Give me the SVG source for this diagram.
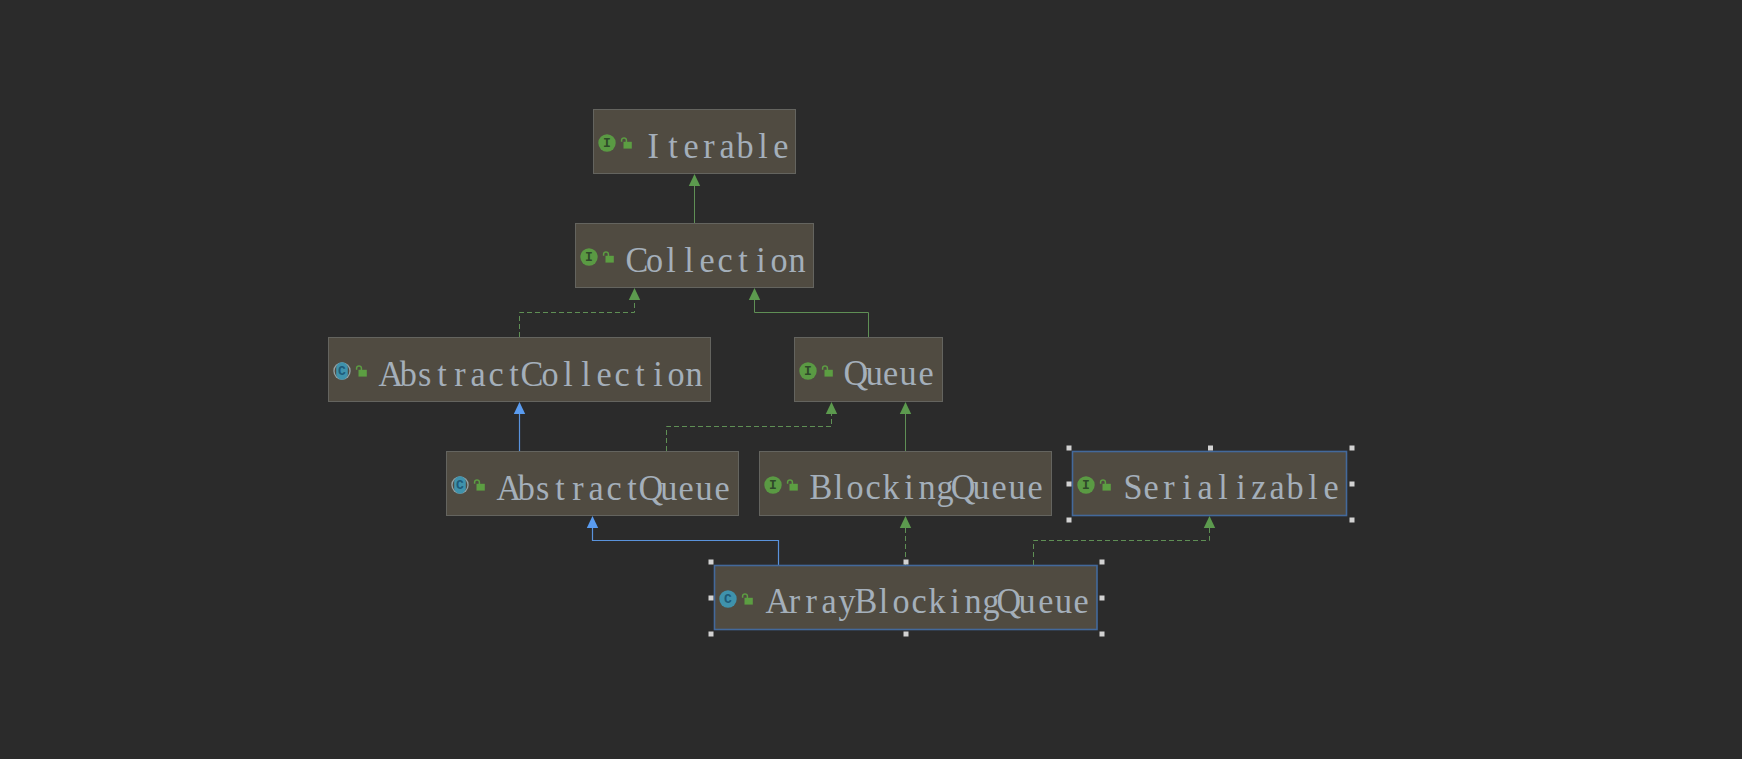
<svg xmlns="http://www.w3.org/2000/svg" width="1742" height="759" viewBox="0 0 1742 759">
<style>
.box{fill:#504b41;stroke:#64645f;stroke-width:1}
.sel{fill:#504b41;stroke:#43699b;stroke-width:1.6}
.name{font-family:"Liberation Serif",serif;font-size:36px;fill:#a4afba;text-anchor:middle}
.letter{font-family:"Liberation Mono",monospace;font-size:13px;font-weight:bold;text-anchor:middle}
.g{fill:none;stroke:#5f8f55;stroke-width:1}
.gd{fill:none;stroke:#5f8f55;stroke-width:1;stroke-dasharray:5 3}
.b{fill:none;stroke:#5a93dc;stroke-width:1.2}
.ga{fill:#5c9a4e}
.ba{fill:#5a9cf0}
.h{fill:#d2d2d2}
</style>
<defs>
<g id="lock"><rect x="16.5" y="-1.2" width="8.3" height="6.8" fill="#5c9e42"/><path d="M14.6 -1.2V-3Q14.8 -5 17 -5T19.4 -3V-1" fill="none" stroke="#5c9e42" stroke-width="1.5"/></g>
<g id="iI"><circle r="8.7" fill="#5a9a43"/><text class="letter" y="4" fill="#2f4a2a">I</text><use href="#lock"/></g>
<g id="iC"><circle r="8.7" fill="#3f92ac"/><text class="letter" y="4" fill="#1d5a78">C</text><use href="#lock"/></g>
<g id="iA"><circle r="8.7" fill="#94a3a6"/><circle r="7.4" fill="#504b41"/><rect x="-5.8" y="-8.7" width="11.6" height="17.4" rx="5.5" fill="#3f92ac"/><text class="letter" y="4" fill="#1d5a78">C</text><use href="#lock"/></g>
</defs>
<rect width="1742" height="759" fill="#2b2b2b"/>
<g id="connectors">
<path class="g" d="M694.5 223V185"/><polygon class="ga" points="694.5,174 700.2,186 688.8,186"/>
<path class="gd" d="M519.5 337V312.5H634.5V299"/><polygon class="ga" points="634.5,288 640.2,300 628.8,300"/>
<path class="g" d="M868.5 337V312.5H754.5V299"/><polygon class="ga" points="754.5,288 760.2,300 748.8,300"/>
<path class="b" d="M519.5 451V413"/><polygon class="ba" points="519.5,402 525.2,414 513.8,414"/>
<path class="gd" d="M666.5 451V426.5H831.5V413"/><polygon class="ga" points="831.5,402 837.2,414 825.8,414"/>
<path class="g" d="M905.5 451V413"/><polygon class="ga" points="905.5,402 911.2,414 899.8,414"/>
<path class="b" d="M778.5 565V540.5H592.5V527"/><polygon class="ba" points="592.5,516 598.2,528 586.8,528"/>
<path class="gd" d="M905.5 565V527"/><polygon class="ga" points="905.5,516 911.2,528 899.8,528"/>
<path class="gd" d="M1033.5 565V540.5H1209.5V527"/><polygon class="ga" points="1209.5,516 1215.2,528 1203.8,528"/>
</g>
<g id="iterable"><rect class="box" x="593.5" y="109.5" width="202" height="64"/><use href="#iI" x="607" y="143"/><text class="name" transform="translate(655 158) scale(.95 1)" x="-2 18.95 37.9 56.84 75.8 94.74 113.7 132.6">Iterable</text></g>
<g id="collection"><rect class="box" x="575.5" y="223.5" width="238" height="64"/><use href="#iI" x="589" y="257"/><text class="name" transform="translate(635 271.5) scale(.95 1)" x="2 20.5 37.9 56.84 75.8 94.74 113.7 132.6 151.6 170.5">Collection</text></g>
<g id="abstract-collection"><rect class="box" x="328.5" y="337.5" width="382" height="64"/><use href="#iA" x="342" y="371"/><text class="name" transform="translate(388 385.5) scale(.95 1)" x="3 21.5 38.5 56.84 75.8 94.74 113.7 132.6 151.6 170.5 189.5 208.4 227.4 246.3 265.3 284.2 303.2 322.1">AbstractCollection</text></g>
<g id="queue"><rect class="box" x="794.5" y="337.5" width="148" height="64"/><use href="#iI" x="808" y="371"/><text class="name" transform="translate(854 385) scale(.95 1)" x="2 21.5 38.5 56.84 75.8">Queue</text></g>
<g id="abstract-queue"><rect class="box" x="446.5" y="451.5" width="292" height="64"/><use href="#iA" x="460" y="485"/><text class="name" transform="translate(506 499.5) scale(.95 1)" x="3 21.5 38.5 56.84 75.8 94.74 113.7 132.6 152.6 171.5 189.5 208.4 227.4">AbstractQueue</text></g>
<g id="blocking-queue"><rect class="box" x="759.5" y="451.5" width="292" height="64"/><use href="#iI" x="773" y="485"/><text class="name" transform="translate(819 499) scale(.95 1)" x="2 20.5 37.9 56.84 75.8 94.74 113.7 132.6 151.6 170.5 189.5 208.4 227.4">BlockingQueue</text></g>
<g id="serializable"><rect class="sel" x="1072.5" y="451.5" width="274" height="64"/><use href="#iI" x="1086" y="485"/><text class="name" transform="translate(1133 499) scale(.95 1)" x="0 18.95 37.9 56.84 75.8 94.74 113.7 132.6 151.6 170.5 189.5 208.4">Serializable</text>
<path class="h" d="M1066.5 445.5h5v5h-5zM1208 445.5h5v5h-5zM1349.5 445.5h5v5h-5zM1066.5 481.5h5v5h-5zM1349.5 481.5h5v5h-5zM1066.5 517.5h5v5h-5zM1349.5 517.5h5v5h-5z"/></g>
<g id="array-blocking-queue"><rect class="sel" x="714.5" y="565.5" width="382.5" height="64"/><use href="#iC" x="728" y="599"/><text class="name" transform="translate(775 613) scale(.95 1)" x="3 20.5 38.2 56.84 75.8 95.7 114.2 132.6 151.6 170.5 189.5 208.4 227.4 246.3 265.3 285.2 303.7 322.1">ArrayBlockingQueue</text>
<path class="h" d="M708.5 559.5h5v5h-5zM903.5 559.5h5v5h-5zM1099.5 559.5h5v5h-5zM708.5 595.5h5v5h-5zM1099.5 595.5h5v5h-5zM708.5 631.5h5v5h-5zM903.5 631.5h5v5h-5zM1099.5 631.5h5v5h-5z"/></g>
</svg>
